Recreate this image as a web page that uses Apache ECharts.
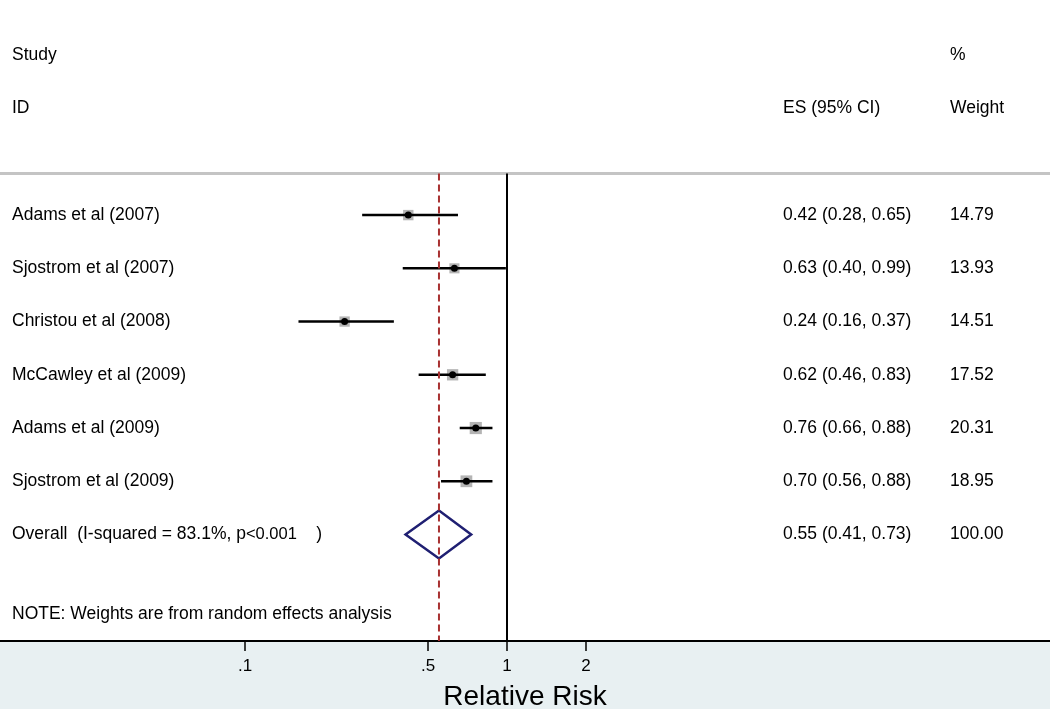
<!DOCTYPE html>
<html>
<head>
<meta charset="utf-8">
<script src="https://cdn.jsdelivr.net/npm/echarts@6/dist/echarts.min.js"></script>
<style>
  html, body { margin: 0; padding: 0; }
  #chart { width: 1050px; height: 709px; }
</style>
</head>
<body>
<div id="chart"></div>
<script>
// study data (relative risk, 95% CI, % weight)
const studies = ['Adams et al (2007)', 'Sjostrom et al (2007)', 'Christou et al (2008)',
  'McCawley et al (2009)', 'Adams et al (2009)', 'Sjostrom et al (2009)']
const esValues = [0.42, 0.63, 0.24, 0.62, 0.76, 0.70]
const ciLow = [0.28, 0.40, 0.16, 0.46, 0.66, 0.56]
const ciHigh = [0.65, 0.99, 0.37, 0.83, 0.88, 0.88]
const weights = [14.79, 13.93, 14.51, 17.52, 20.31, 18.95]

const overallEs = [0.55]
const overallLow = [0.41]
const overallHigh = [0.73]
const overallWeight = [100.00]

const xTickValues = [0.1, 0.5, 1, 2]
const xTickLabels = ['.1', '.5', '1', '2']

// layout
const FONT = '"Liberation Sans", Arial, sans-serif'
const TEXT_COLOR = '#000'
const COL_NAME = 12
const COL_ES = 783
const COL_WEIGHT = 950
const ROW_FIRST = 4
const ROW_OVERALL = 10
const ROW_NOTE = 11.5
const ROW_TOP_LINE = 3.22
const ROW_MAX = 12

const lg = v => Math.log10(v)
const fmt = v => v.toFixed(2)

const chart = echarts.init(document.getElementById('chart'))

const studyData = studies.map((s, i) => [lg(esValues[i]), ROW_FIRST + i, lg(ciLow[i]), lg(ciHigh[i]), weights[i]])
const diamondData = [[lg(overallEs[0]), ROW_OVERALL, lg(overallLow[0]), lg(overallHigh[0])]]

// text table rows, placed on the hidden pixel axis
const textRows = []
const addText = (x, row, text) => textRows.push({ value: [x, row], label: { formatter: text } })
addText(COL_NAME, 1, 'Study')
addText(COL_NAME, 2, 'ID')
addText(COL_ES, 2, 'ES (95% CI)')
addText(COL_WEIGHT, 1, '%')
addText(COL_WEIGHT, 2, 'Weight')
studies.forEach((s, i) => {
  addText(COL_NAME, ROW_FIRST + i, s)
  addText(COL_ES, ROW_FIRST + i, fmt(esValues[i]) + ' (' + fmt(ciLow[i]) + ', ' + fmt(ciHigh[i]) + ')')
  addText(COL_WEIGHT, ROW_FIRST + i, fmt(weights[i]))
})
addText(COL_NAME, ROW_OVERALL, 'Overall  (I-squared = 83.1%, p{s|<0.001}    )')
addText(COL_ES, ROW_OVERALL, fmt(overallEs[0]) + ' (' + fmt(overallLow[0]) + ', ' + fmt(overallHigh[0]) + ')')
addText(COL_WEIGHT, ROW_OVERALL, fmt(overallWeight[0]))
addText(COL_NAME, ROW_NOTE, 'NOTE: Weights are from random effects analysis')

// log axis range: 1 sits at x=507, one decade = 262px
const xMin = -507 / 262
const xMax = (1050 - 507) / 262

chart.setOption({
  backgroundColor: '#e8f0f2',
  animation: false,
  grid: {
    left: 0, right: 0, top: 0, bottom: 68,
    outerBoundsMode: 'none',
    containLabel: false,
    show: true, backgroundColor: '#ffffff', borderWidth: 0
  },
  xAxis: [{
    type: 'value',
    position: 'bottom',
    min: xMin,
    max: xMax,
    splitLine: { show: false },
    axisLine: { onZero: false, lineStyle: { color: '#000', width: 2 } },
    axisTick: {
      customValues: xTickValues.map(lg),
      length: 10,
      lineStyle: { color: '#000', width: 1.5 }
    },
    axisLabel: {
      customValues: xTickValues.map(lg),
      formatter: v => {
        let best = 0
        xTickValues.forEach((t, i) => { if (Math.abs(lg(t) - v) < Math.abs(lg(xTickValues[best]) - v)) best = i })
        return xTickLabels[best]
      },
      margin: 17,
      fontSize: 17,
      color: TEXT_COLOR,
      fontFamily: FONT
    },
    name: 'Relative Risk',
    nameLocation: 'middle',
    nameGap: 42,
    nameTextStyle: { fontSize: 28, color: TEXT_COLOR, fontFamily: FONT }
  }, {
    type: 'value',
    position: 'top',
    min: 0,
    max: 1050,
    show: false
  }],
  yAxis: {
    type: 'value',
    inverse: true,
    min: -0.04,
    max: ROW_MAX,
    show: false
  },
  series: [
    {
      // header separator
      type: 'line',
      xAxisIndex: 1,
      data: [[0, ROW_TOP_LINE], [1050, ROW_TOP_LINE]],
      symbol: 'none',
      silent: true,
      lineStyle: { color: '#c4c4c4', width: 3 }
    },
    {
      // null line at RR = 1
      type: 'line',
      data: [[lg(1), ROW_TOP_LINE], [lg(1), ROW_MAX]],
      symbol: 'none',
      silent: true,
      lineStyle: { color: '#000', width: 2 }
    },
    {
      // overall effect line
      type: 'line',
      data: [[lg(overallEs[0]), ROW_TOP_LINE], [lg(overallEs[0]), ROW_MAX]],
      symbol: 'none',
      silent: true,
      lineStyle: { color: '#a83232', width: 2, type: [7, 4] }
    },
    {
      type: 'custom',
      data: studyData,
      silent: true,
      renderItem: (params, api) => {
        const row = api.value(1)
        const pEs = api.coord([api.value(0), row])
        const pLo = api.coord([api.value(2), row])
        const pHi = api.coord([api.value(3), row])
        const s = 2.7 * Math.sqrt(api.value(4))
        return {
          type: 'group',
          children: [
            { type: 'rect', shape: { x: pEs[0] - s / 2, y: pEs[1] - s / 2, width: s, height: s },
              style: { fill: '#b4b4b4' } },
            { type: 'line', shape: { x1: pLo[0], y1: pLo[1], x2: pHi[0], y2: pHi[1] },
              style: { stroke: '#000', lineWidth: 2.5 } },
            { type: 'circle', shape: { cx: pEs[0], cy: pEs[1], r: 3.5 },
              style: { fill: '#000' } }
          ]
        }
      }
    },
    {
      type: 'custom',
      data: diamondData,
      silent: true,
      renderItem: (params, api) => {
        const row = api.value(1)
        const pEs = api.coord([api.value(0), row])
        const pLo = api.coord([api.value(2), row])
        const pHi = api.coord([api.value(3), row])
        const h = 24
        return {
          type: 'polygon',
          shape: { points: [pLo, [pEs[0], pEs[1] - h], pHi, [pEs[0], pEs[1] + h]] },
          style: { fill: 'none', stroke: '#1f1f72', lineWidth: 2.5 }
        }
      }
    },
    {
      type: 'scatter',
      xAxisIndex: 1,
      symbolSize: 0,
      silent: true,
      itemStyle: { opacity: 1 },
      data: textRows,
      label: {
        show: true,
        position: [0, 0],
        align: 'left',
        verticalAlign: 'middle',
        fontSize: 17.5,
        color: TEXT_COLOR,
        opacity: 1,
        fontFamily: FONT,
        rich: { s: { fontSize: 16.5, color: TEXT_COLOR, fontFamily: FONT } }
      }
    }
  ]
})
</script>
</body>
</html>
